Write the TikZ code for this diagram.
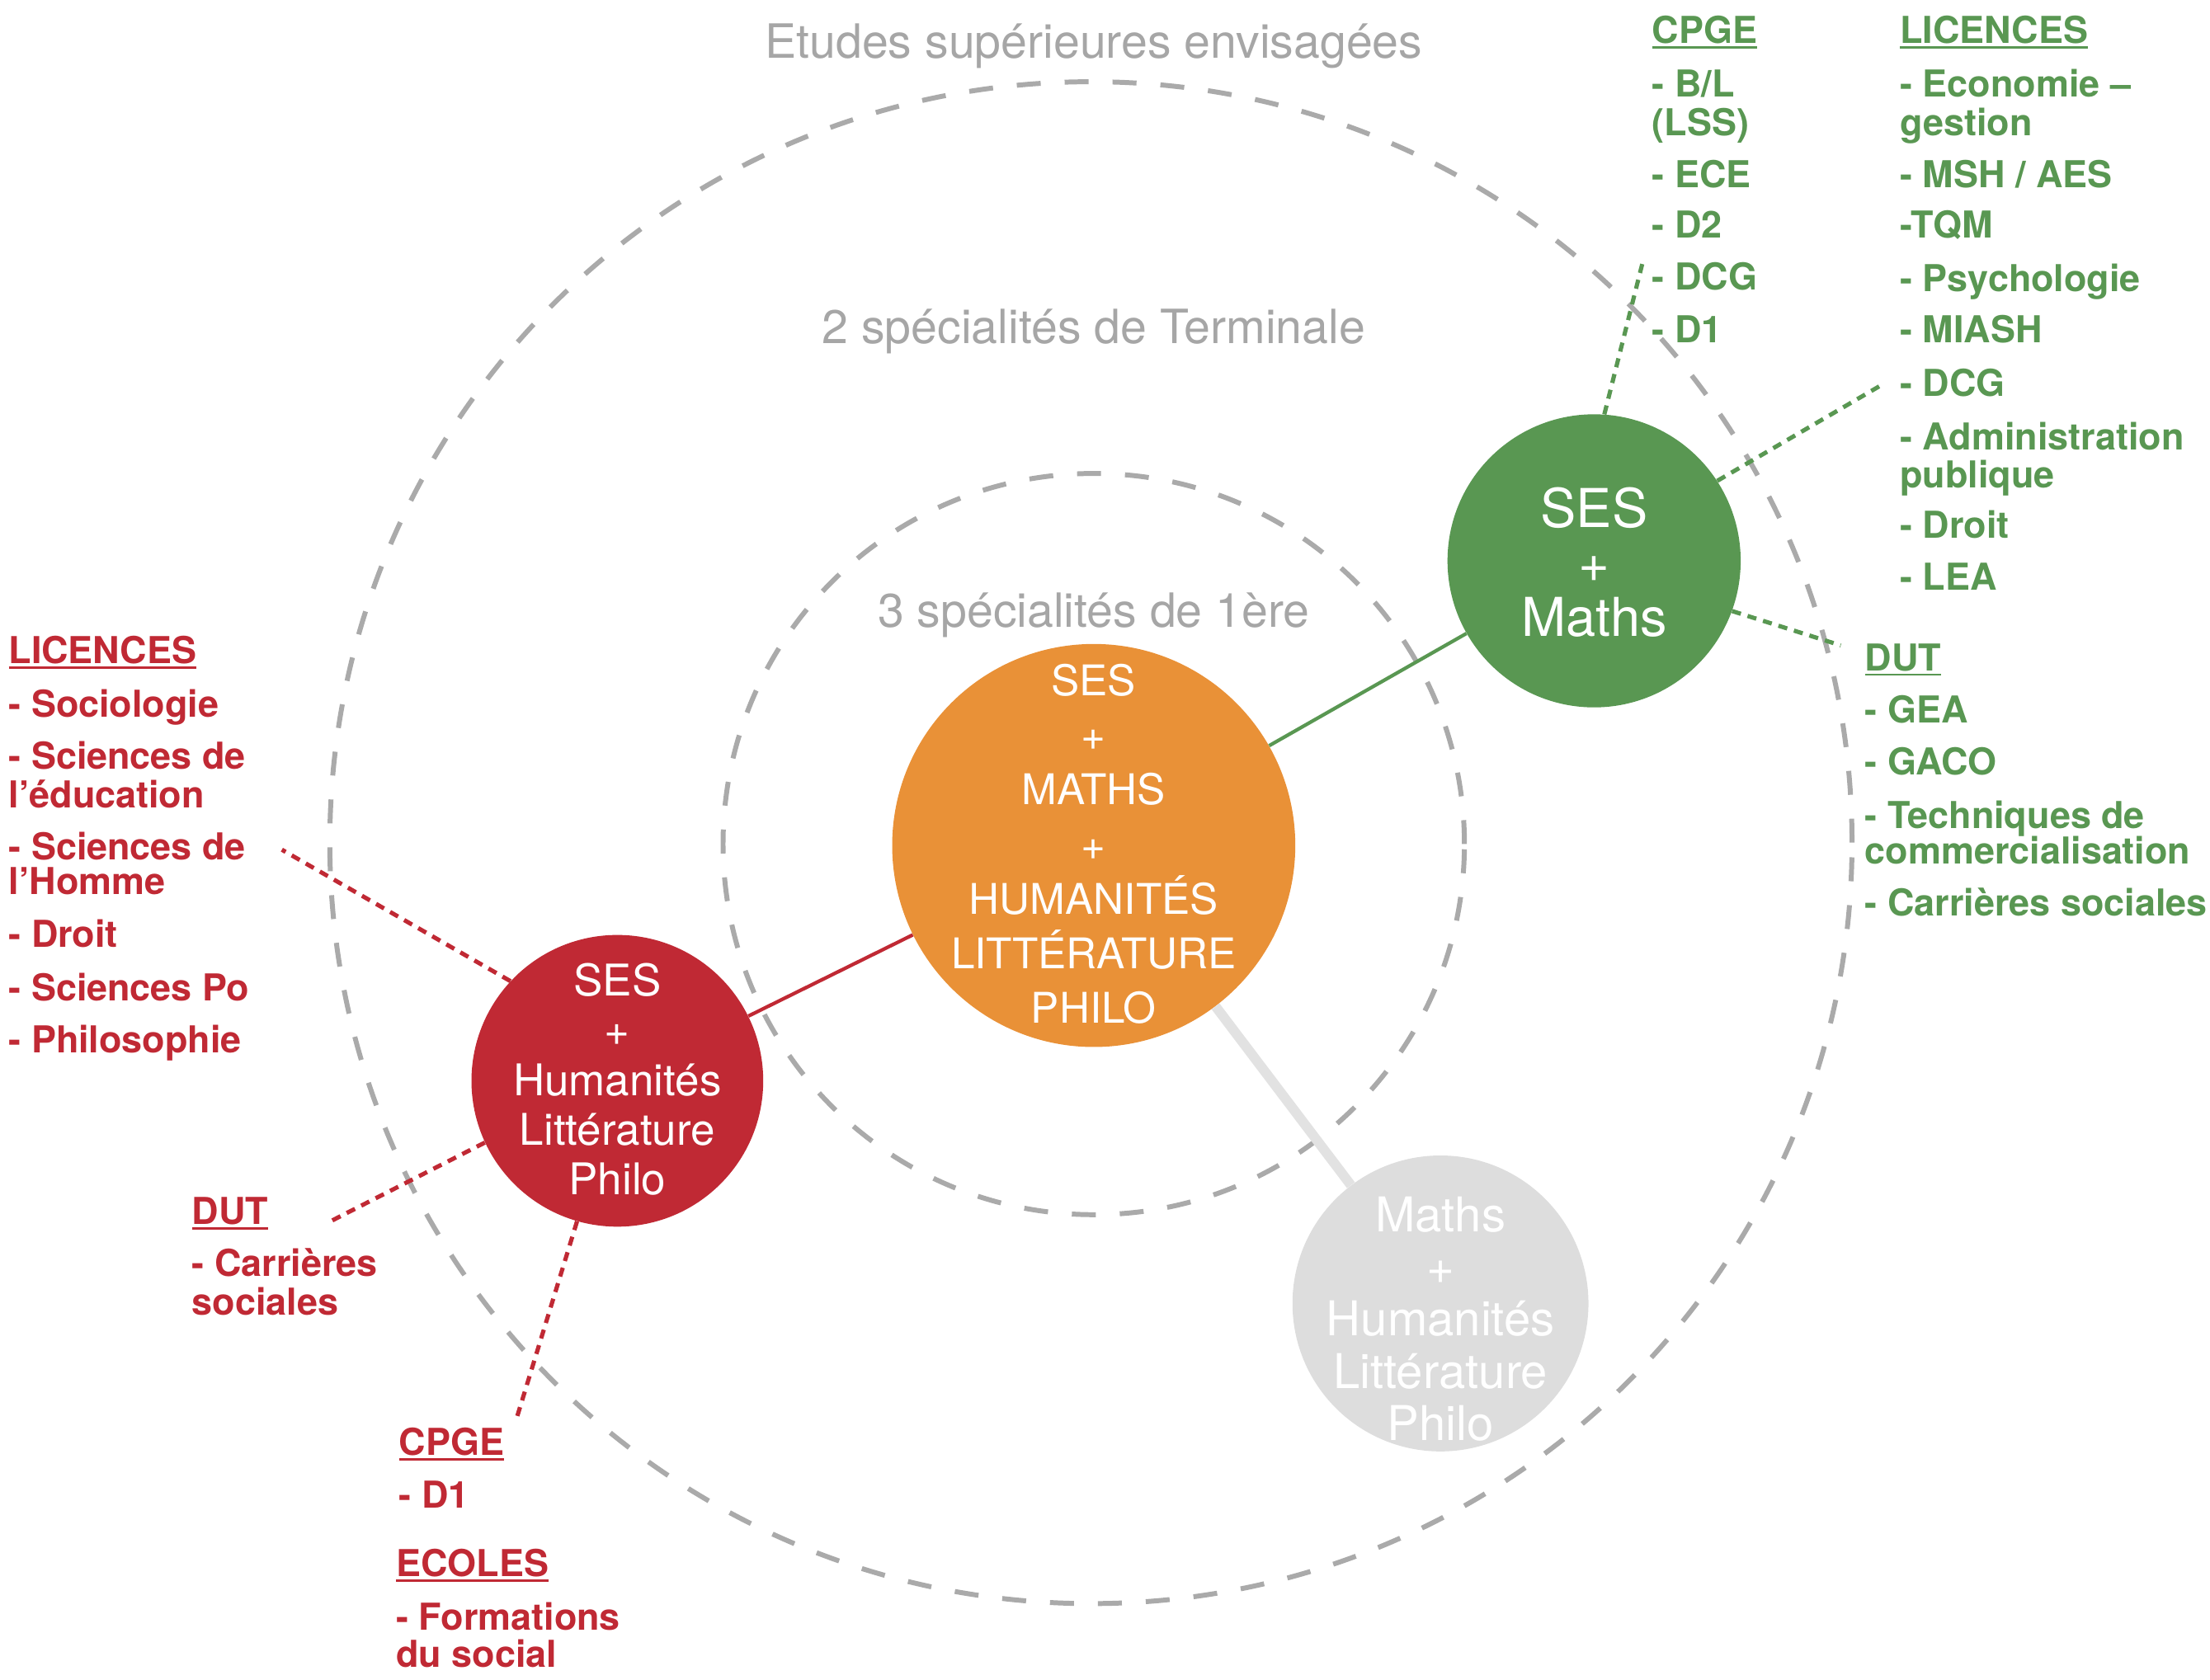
\documentclass[tikz,border=0pt]{standalone}
\usepackage{fontspec}
\setmainfont{TeX Gyre Heros}
\definecolor{tgray}{RGB}{166,166,166}
\definecolor{ringgray}{RGB}{170,170,170}
\definecolor{sesgreen}{RGB}{89,151,82}
\definecolor{sesred}{RGB}{192,41,52}
\definecolor{sesorange}{RGB}{233,145,55}
\definecolor{palegray}{RGB}{221,221,221}
\definecolor{paleline}{RGB}{226,226,226}
\newcommand\hdr[1]{\setbox0\hbox{#1}\rlap{\rule[-3.6pt]{\wd0}{1.6pt}}\box0}
\tikzset{
  ring/.style={draw=ringgray, line width=3.5pt, dash pattern=on 17pt off 17pt},
  titletext/.style={anchor=base, inner sep=0, text=tgray, font=\fontsize{33.5}{40}\selectfont},
  bubble/.style={circle, inner sep=0},
  bubbletext/.style={inner sep=0, text=white, align=center},
  listg/.style={anchor=base west, align=left, inner sep=0, text=sesgreen, font=\fontsize{26.3}{27}\selectfont\bfseries},
  listr/.style={anchor=base west, align=left, inner sep=0, text=sesred, font=\fontsize{26.3}{27}\selectfont\bfseries},
  dotg/.style={draw=sesgreen, line width=3pt, dash pattern=on 6.5pt off 5pt},
  dotr/.style={draw=sesred, line width=3pt, dash pattern=on 6.5pt off 5pt},
}
\begin{document}
\begin{tikzpicture}[x=1pt, y=-1pt]
\useasboundingbox (0,0) rectangle (1568,1192);
% rings
\draw[ring] (774,598) circle [radius=540pt];
\draw[ring] (776,599) circle [radius=263pt];
% titles
\node[titletext] (t1) at (776,41) {Etudes supérieures envisagées};
\node[titletext] (t2) at (776,244) {2 spécialités de Terminale};
\node[titletext] (t3) at (776,445) {3 spécialités de 1ère};
% bubbles
\node[bubble, fill=sesorange, minimum size=286pt] (orange) at (776,600) {};
\node[bubble, fill=sesgreen, minimum size=208pt] (green) at (1131,398) {};
\node[bubble, fill=sesred, minimum size=207pt] (red) at (438,767) {};
\node[bubble, fill=palegray, minimum size=210pt] (gray) at (1022,925) {};
% bubble texts
\node[bubbletext, font=\fontsize{30}{38.8}\selectfont] (orangetext) at (776,599)
  {SES\\+\\MATHS\\+\\HUMANITÉS\\LITTÉRATURE\\PHILO};
\node[bubbletext, font=\fontsize{38}{38.5}\selectfont] (greentext) at (1131,399)
  {SES\\+\\Maths};
\node[bubbletext, font=\fontsize{31}{35.25}\selectfont] (redtext) at (438,766)
  {SES\\+\\Humanités\\Littérature\\Philo};
\node[bubbletext, font=\fontsize{34}{37}\selectfont] (graytext) at (1022,936)
  {Maths\\+\\Humanités\\Littérature\\Philo};
% solid connectors
\draw[sesgreen, line width=2.5pt] (orange) -- (green);
\draw[sesred, line width=2.5pt] (red) -- (orange);
\draw[paleline, line width=7pt] (orange) -- (gray);
% free ends of dotted connectors
\coordinate (gA) at (1166,184);
\coordinate (gB) at (1337,272);
\coordinate (gC) at (1306,458);
\coordinate (rA) at (200,603);
\coordinate (rB) at (232,868);
\coordinate (rC) at (367,1005);
\draw[dotg] (green.86) -- (gA);
\draw[dotg] (green.33) -- (gB);
\draw[dotg] (green.-20) -- (gC);
\draw[dotr] (red.137) -- (rA);
\draw[dotr] (red.205) -- (rB);
\draw[dotr] (red.254) -- (rC);
% green lists (anchored at the baseline of their last line)
\node[listg] (gcpge) at (1172,243)
  {\hdr{CPGE}\\[11pt]- B/L\\(LSS)\\[10pt]- ECE\\[9pt]- D2\\[10pt]- DCG\\[10pt]- D1};
\node[listg] (glic) at (1348,419)
  {\hdr{LICENCES}\\[11pt]- Economie –\\gestion\\[10pt]- MSH / AES\\[9pt]-TQM\\[11pt]- Psychologie\\[9pt]- MIASH\\[11pt]- DCG\\[11pt]- Administration\\publique\\[9pt]- Droit\\[10pt]- LEA};
\node[listg] (gdut) at (1323,650)
  {\hdr{DUT}\\[10pt]- GEA\\[10pt]- GACO\\[11pt]- Techniques de\\[-2pt]commercialisation\\[10pt]- Carrières sociales};
% red lists
\node[listr] (rlic) at (6,747)
  {\hdr{LICENCES}\\[11pt]- Sociologie\\[10pt]- Sciences de\\l’éducation\\[10pt]- Sciences de\\[-2pt]l’Homme\\[10pt]- Droit\\[11pt]- Sciences Po\\[10pt]- Philosophie};
\node[listr] (rdut) at (136,933)
  {\hdr{DUT}\\[10pt]- Carrières\\sociales};
\node[listr] (rcpge) at (283,1070)
  {\hdr{CPGE}\\[10pt]- D1};
\node[listr] (recoles) at (281,1183)
  {\hdr{ECOLES}\\[11pt]- Formations\\[-1pt]du social};
\end{tikzpicture}
\end{document}
